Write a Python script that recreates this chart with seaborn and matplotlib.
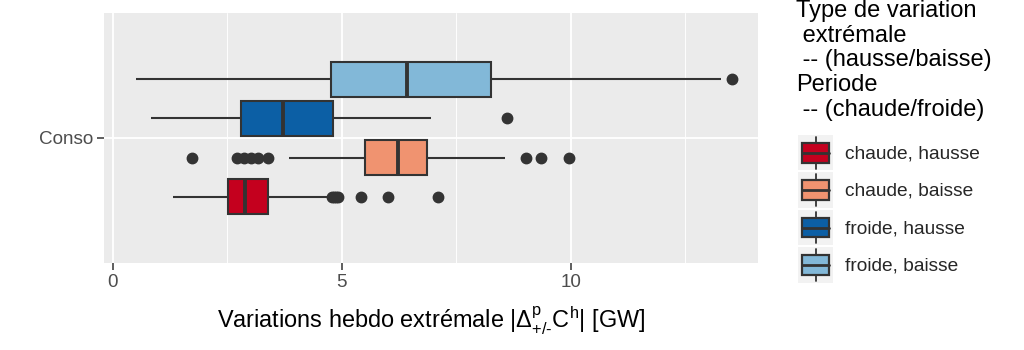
import numpy as np
import pandas as pd
import matplotlib
matplotlib.use("Agg")
import matplotlib.pyplot as plt
import seaborn as sns
from matplotlib.patches import Rectangle, Patch
from matplotlib.lines import Line2D
from matplotlib.legend_handler import HandlerBase
from matplotlib.ticker import MultipleLocator

# ---- data ----
category = "Conso"
groups = ["chaude, hausse", "chaude, baisse", "froide, hausse", "froide, baisse"]
colors = ["#C4001E", "#F09370", "#0C5FA5", "#82B8D8"]
whisk_lo = [1.31, 3.86, 0.83, 0.51]
q1 = [2.51, 5.51, 2.81, 4.76]
median = [2.88, 6.23, 3.72, 6.43]
q3 = [3.40, 6.86, 4.82, 8.25]
whisk_hi = [4.69, 8.57, 6.96, 13.28]
outliers = [
    [4.78, 4.83, 4.88, 4.93, 5.42, 6.02, 7.10],
    [1.73, 2.71, 2.86, 3.02, 3.18, 3.40, 9.02, 9.36, 9.97],
    [8.61],
    [13.53],
]
x_ticks = [0, 5, 10]

# build samples reproducing the five-number summaries
rows = []
for g, lo, a, m, b, hi, out in zip(groups, whisk_lo, q1, median, q3, whisk_hi, outliers):
    vals = list(out) + [lo, hi] + [a] * 30 + [m] * 30 + [b] * 30
    for v in vals:
        rows.append({"value": v, "cat": category, "type": g})
df = pd.DataFrame(rows)

sns.set_theme(style="white")
plt.rcParams["font.family"] = ["Liberation Sans", "DejaVu Sans"]
plt.rcParams["mathtext.fontset"] = "custom"
plt.rcParams["mathtext.rm"] = "Liberation Sans"
plt.rcParams["mathtext.it"] = "Liberation Sans"
plt.rcParams["mathtext.bf"] = "Liberation Sans:bold"

fig = plt.figure(figsize=(10.24, 3.5), dpi=100)
ax = fig.add_axes([104 / 1024, 1 - 263 / 350, (758 - 104) / 1024, (263 - 13) / 350])
ax.set_facecolor("#EBEBEB")

palette = dict(zip(groups, colors))
plot_order = groups[::-1]
line_c = "#333333"
sns.boxplot(
    data=df, x="value", y="cat", hue="type", hue_order=plot_order,
    palette=palette, saturation=1, width=0.75, gap=0.1, linewidth=1.5, linecolor=line_c,
    showcaps=False, fliersize=7.5,
    flierprops=dict(marker="o", markerfacecolor=line_c, markeredgecolor=line_c),
    medianprops=dict(linewidth=2.8, color=line_c),
    whiskerprops=dict(linewidth=1.5, color=line_c),
    boxprops=dict(edgecolor=line_c),
    legend=False, ax=ax, zorder=3,
)

ax.set_xlim(-0.19, 14.09)
ax.set_ylim(0.6, -0.6)
ax.set_xticks(x_ticks)
ax.xaxis.set_minor_locator(MultipleLocator(2.5))
ax.grid(which="major", color="white", linewidth=1.3, zorder=0)
ax.grid(which="minor", axis="x", color="white", linewidth=0.65, zorder=0)
ax.set_axisbelow(True)
for s in ax.spines.values():
    s.set_visible(False)
ax.tick_params(axis="both", which="major", length=5, width=1.1, color=line_c,
               labelcolor="#4D4D4D", labelsize=13.6, pad=3, left=True, bottom=True)
ax.tick_params(axis="both", which="minor", length=0)
ax.set_ylabel("")
ax.set_xlabel(r"Variations hebdo extrémale |$\Delta^{\mathrm{p}}_{\text{+/-}}$C$^{\mathrm{h}}$| [GW]",
              fontsize=16.9, color="black", labelpad=10)


class BoxHandler(HandlerBase):
    def create_artists(self, legend, orig_handle, xdescent, ydescent, width, height, fontsize, trans):
        x0, y0 = -xdescent, -ydescent
        fc = orig_handle.get_facecolor()
        bg = Rectangle((x0, y0), width, height, facecolor="#F2F2F2", edgecolor="none", transform=trans)
        cx = x0 + width / 2
        wl = Line2D([cx, cx], [y0 + height * 0.05, y0 + height * 0.95], color=line_c, lw=1.3, transform=trans)
        box = Rectangle((x0 + width * 0.12, y0 + height * 0.22), width * 0.76, height * 0.56,
                        facecolor=fc, edgecolor=line_c, lw=1.6, transform=trans)
        med = Line2D([x0 + width * 0.12, x0 + width * 0.88], [y0 + height / 2] * 2, color=line_c, lw=2.0, transform=trans)
        return [bg, wl, box, med]


title = "Type de variation\n extrémale\n -- (hausse/baisse)\nPeriode\n -- (chaude/froide)"
fig.text(796 / 1024, 1.0, title, ha="left", va="top", fontsize=17, color="black",
         linespacing=1.16)

handles = [Patch(facecolor=c) for c in colors]
leg = fig.legend(handles, groups, loc="upper left", bbox_to_anchor=(798 / 1024, 1 - 135 / 350),
                 frameon=False, fontsize=13.8, handler_map={Patch: BoxHandler()},
                 handlelength=1.85, handleheight=2.47, labelspacing=0.1,
                 handletextpad=0.6, borderpad=0, borderaxespad=0)

fig.savefig("out.png", dpi=100)
